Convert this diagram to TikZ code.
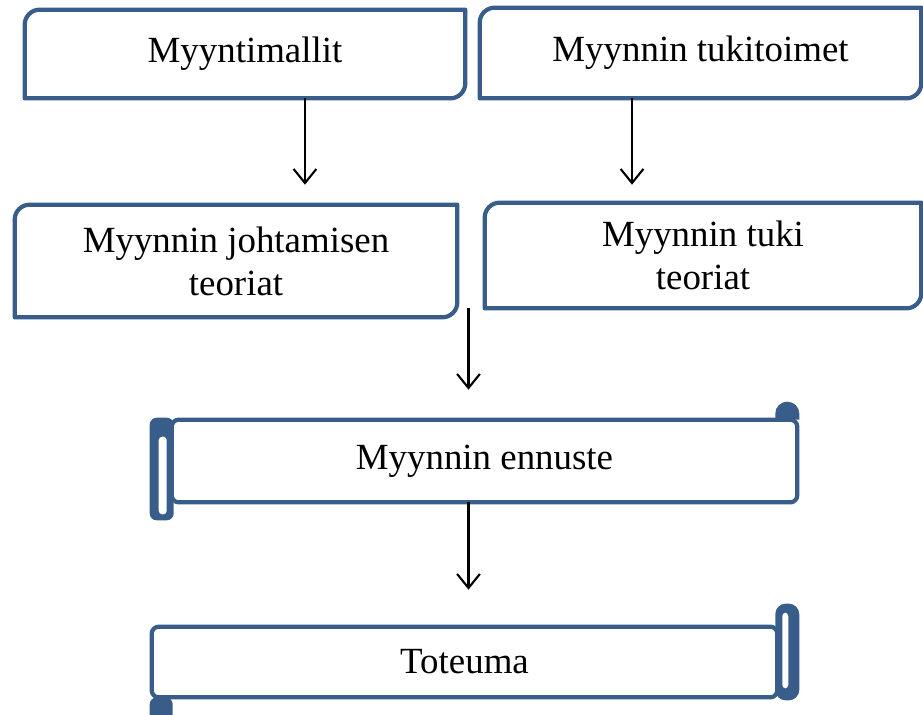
\documentclass[tikz,border=0pt]{standalone}
\usepackage{fontspec}
\setmainfont{Liberation Serif}
\usetikzlibrary{arrows.meta}
\definecolor{kehys}{RGB}{56,93,138}
\tikzset{
  reuna/.style={draw=kehys, line width=2.4pt, line join=round},
  teksti/.style={font=\fontsize{21}{24.5}\selectfont, align=center, inner sep=0pt},
  nuoli/.style={-{Straight Barb[length=8pt,width=13pt]}, line width=1.2pt}
}
\begin{document}
\begin{tikzpicture}[x=0.02cm, y=-0.02cm]
    \useasboundingbox (0,0) rectangle (923,714);
    % 1. Ylemmat laatikot
    \node[teksti, minimum width=8.8cm, minimum height=1.76cm] (malli) at (245,54) {Myyntimallit};
    \node[teksti, minimum width=8.82cm, minimum height=1.8cm] (tuki) at (700.5,53) {Myynnin tukitoimet};
    \node[teksti, minimum width=8.84cm, minimum height=2.24cm] (johto) at (236,261) {Myynnin johtamisen\\teoriat};
    \node[teksti, minimum width=8.72cm, minimum height=2.1cm] (tukiteo) at (703,255.5) {Myynnin tuki\\teoriat};
    \foreach \k in {malli,tuki,johto,tukiteo}
        \draw[reuna] (\k.south west) -- ([yshift=-0.3cm]\k.north west)
            arc[start angle=180, end angle=90, radius=0.3cm] -- (\k.north east)
            -- ([yshift=0.3cm]\k.south east)
            arc[start angle=0, end angle=-90, radius=0.3cm] -- cycle;

    % 2. Kääröt
    \node[teksti, minimum width=12.5cm, minimum height=1.64cm] (ennuste) at (484.5,461) {Myynnin ennuste};
    \node[teksti, minimum width=12.5cm, minimum height=1.4cm] (toteuma) at (464.5,662) {Toteuma};

    \draw[reuna, rounded corners=4pt] (ennuste.north west) rectangle (ennuste.south east);
    \fill[kehys, rounded corners=4pt] ([xshift=-0.44cm,yshift=0.04cm]ennuste.north west)
        rectangle ([xshift=0.04cm,yshift=-0.36cm]ennuste.south west);
    \fill[white, rounded corners=2pt] ([xshift=-0.26cm,yshift=-0.34cm]ennuste.north west)
        rectangle ([xshift=-0.1cm,yshift=-0.24cm]ennuste.south west);
    \fill[kehys] ([xshift=-0.44cm]ennuste.north east) -- ([xshift=-0.44cm,yshift=0.12cm]ennuste.north east)
        arc[start angle=180, end angle=0, radius=0.24cm] -- ([xshift=0.04cm]ennuste.north east) -- cycle;

    \draw[reuna, rounded corners=4pt] (toteuma.north west) rectangle (toteuma.south east);
    \fill[kehys, rounded corners=6pt] ([xshift=-0.04cm,yshift=0.46cm]toteuma.north east)
        rectangle ([xshift=0.44cm,yshift=-0.06cm]toteuma.south east);
    \fill[white, rounded corners=2pt] ([xshift=0.1cm,yshift=0.28cm]toteuma.north east)
        rectangle ([xshift=0.22cm,yshift=0.18cm]toteuma.south east);
    \fill[kehys, rounded corners=4pt] ([xshift=-0.04cm]toteuma.south west)
        rectangle ([xshift=0.42cm,yshift=-0.6cm]toteuma.south west);

    % 3. Nuolet
    \draw[nuoli, shorten >=0.4cm] ([xshift=1.2cm]malli.south) -- ([xshift=1.2cm]malli.south |- johto.north);
    \draw[nuoli, shorten >=0.36cm] ([xshift=-1.37cm]tuki.south) -- ([xshift=-1.37cm]tuki.south |- tukiteo.north);
    \draw[nuoli, shorten >=0.6cm] ([xshift=-0.32cm]ennuste.north |- tukiteo.south) -- ([xshift=-0.32cm]ennuste.north);
    \draw[nuoli, shorten >=0.74cm] ([xshift=-0.32cm]ennuste.south) -- ([xshift=-0.32cm]ennuste.south |- toteuma.north);
\end{tikzpicture}
\end{document}
